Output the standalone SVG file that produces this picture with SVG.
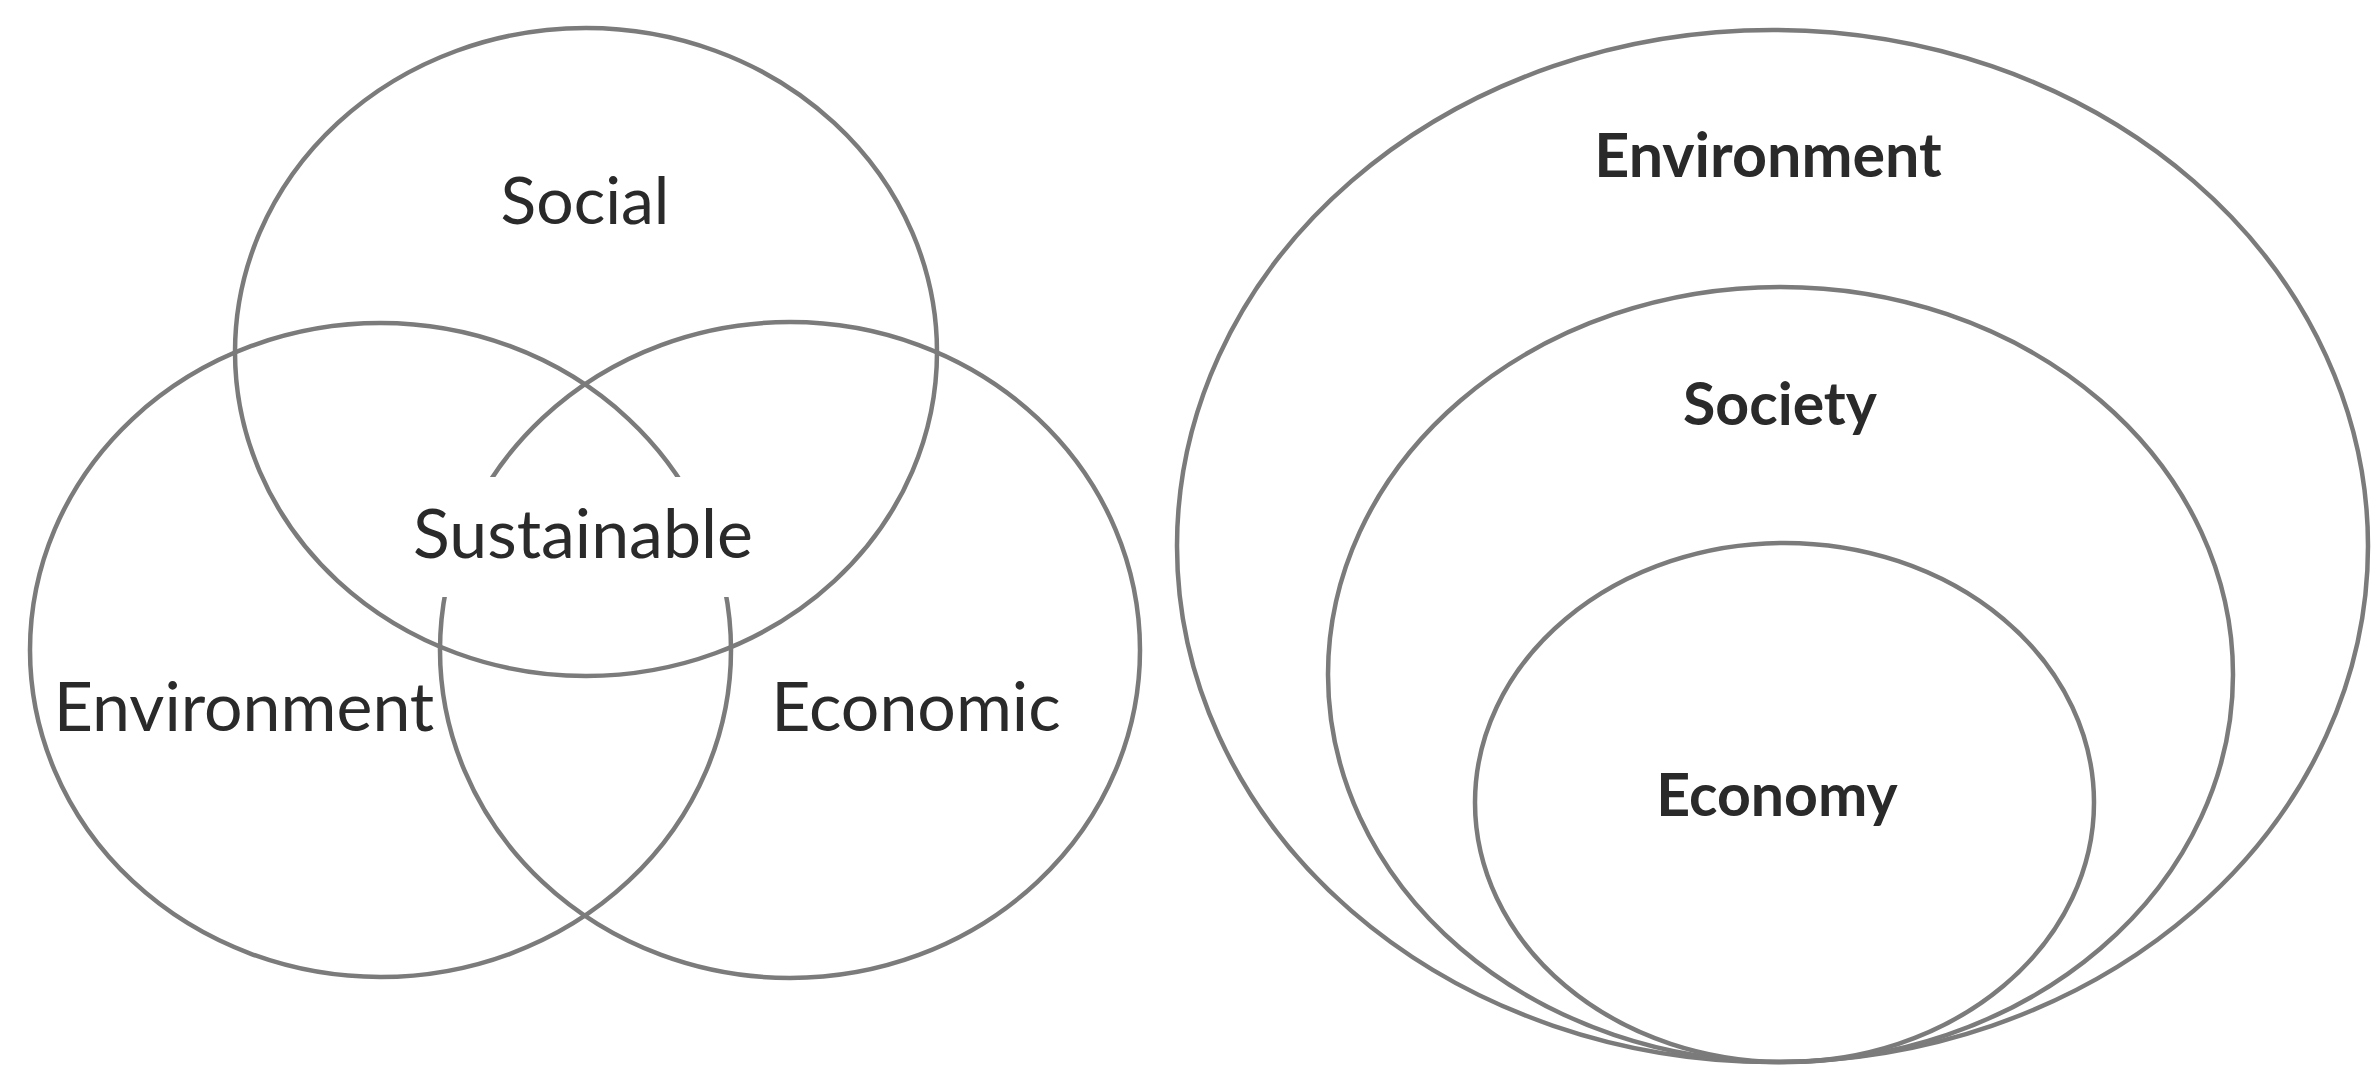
<svg xmlns="http://www.w3.org/2000/svg" width="2379" height="1082" viewBox="0 0 2379 1082">
  <style>
    .ring { fill: none; stroke: #7b7b7b; stroke-width: 4.5; }
    .lbl { font-family: Lato, "Open Sans", "Liberation Sans", sans-serif; fill: #2a2a2a; text-anchor: middle; }
    .reg { font-size: 68px; font-weight: 400; }
    .bold { font-size: 60px; font-weight: 700; }
  </style>
  <defs>
    <mask id="gap" maskUnits="userSpaceOnUse" x="0" y="0" width="2379" height="1082">
      <rect x="0" y="0" width="2379" height="1082" fill="#fff"/>
      <rect x="425" y="477" width="320" height="120" fill="#000"/>
    </mask>
  </defs>
  <rect width="2379" height="1082" fill="#fff"/>

  <g id="venn">
    <g id="social">
      <ellipse class="ring" cx="586" cy="352" rx="351" ry="324"/>
      <text class="lbl reg" x="585" y="224" style="font-size:66px">Social</text>
    </g>
    <g id="environment-venn">
      <ellipse class="ring" cx="380.5" cy="650" rx="350.5" ry="327" mask="url(#gap)"/>
      <text class="lbl reg" x="244" y="731">Environment</text>
    </g>
    <g id="economic">
      <ellipse class="ring" cx="790" cy="650" rx="350" ry="328" mask="url(#gap)"/>
      <text class="lbl reg" x="916" y="731">Economic</text>
    </g>
    <g id="sustainable">
      <text class="lbl reg" x="583" y="558">Sustainable</text>
    </g>
  </g>

  <g id="nested">
    <g id="environment">
      <ellipse class="ring" cx="1772.5" cy="546" rx="595.5" ry="516"/>
      <text class="lbl bold" x="1768" y="177" style="font-size:61px">Environment</text>
    </g>
    <g id="society">
      <ellipse class="ring" cx="1780.5" cy="674.5" rx="452.5" ry="387.5"/>
      <text class="lbl bold" x="1780" y="425" style="font-size:59px">Society</text>
    </g>
    <g id="economy">
      <ellipse class="ring" cx="1784.5" cy="802.5" rx="309.5" ry="259.5"/>
      <text class="lbl bold" x="1777" y="816" style="font-size:59px">Economy</text>
    </g>
  </g>
  <g id="connectors"/>
</svg>
